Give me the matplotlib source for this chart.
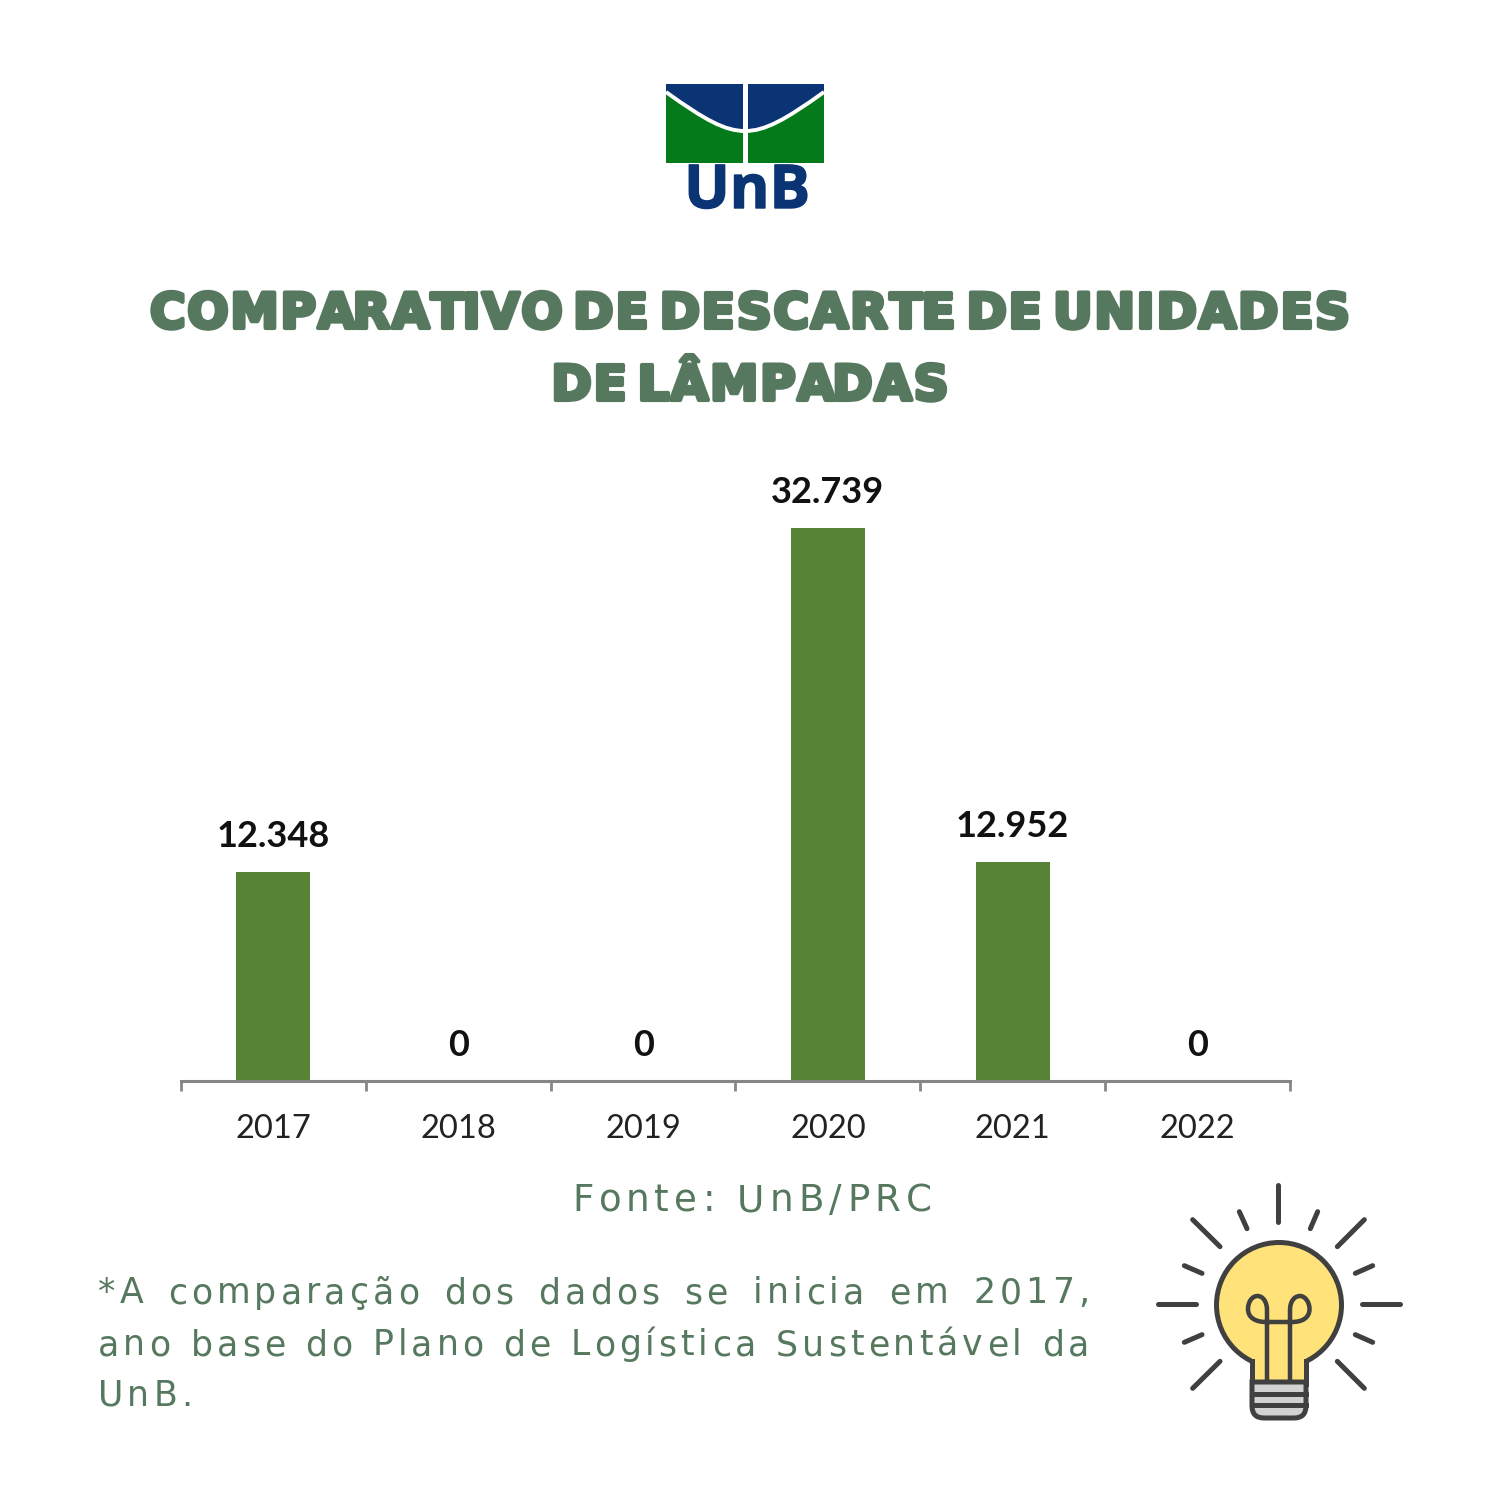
#!/usr/bin/env python3
"""Comparison of discarded lamp units per year, UnB infographic."""

import matplotlib
matplotlib.use("Agg")
import matplotlib.pyplot as plt
import matplotlib.patheffects as pe
from matplotlib.patches import Circle, PathPatch, Rectangle
from matplotlib.path import Path
from matplotlib.text import Text
from matplotlib.transforms import IdentityTransform

years = ["2017", "2018", "2019", "2020", "2021", "2022"]
units = [12348, 0, 0, 32739, 12952, 0]
value_labels = ["12.348", "0", "0", "32.739", "12.952", "0"]

title_lines = ["COMPARATIVO DE DESCARTE DE UNIDADES", "DE LÂMPADAS"]
source_text = "Fonte: UnB/PRC"
note_lines = [
    "*A comparação dos dados se inicia em 2017,",
    "ano base do Plano de Logística Sustentável da",
    "UnB.",
]

TEXT_GREEN = "#56785E"
BAR_GREEN = "#568335"
AXIS_GREY = "#868686"
LOGO_BLUE = "#0B3474"
LOGO_GREEN = "#057A1B"
BULB_DARK = "#404040"
BULB_YELLOW = "#FFE27A"
BASE_GREY = "#D2D2D2"
SIZE = 1500


class TrackedText(Text):
    # matplotlib has no letter spacing, so the glyphs are drawn one by one while
    # the artist keeps the whole string. tracking and fit_width are in pixels.
    def __init__(self, *args, tracking=0.0, word_extra=0.0, fit_width=None, **kwargs):
        super().__init__(*args, **kwargs)
        self.tracking = tracking
        self.word_extra = word_extra
        self.fit_width = fit_width

    def _advance(self, renderer, s):
        prop = self.get_fontproperties()
        w_bar = renderer.get_text_width_height_descent("|", prop, False)[0]
        return renderer.get_text_width_height_descent(s + "|", prop, False)[0] - w_bar

    def draw(self, renderer):
        s = self.get_text()
        nspaces = s.count(" ")
        word_extra = self.word_extra
        natural = self._advance(renderer, s) + self.tracking * (len(s) - 1)
        if self.fit_width is not None and nspaces:
            word_extra = (self.fit_width - natural) / nspaces
        total = natural + word_extra * nspaces

        x0, y0 = self.get_transform().transform(self.get_position())
        if self.get_ha() == "center":
            x0 -= total / 2
        for i, ch in enumerate(s):
            if ch == " ":
                continue
            prefix = s[:i]
            xi = x0 + self._advance(renderer, prefix) + i * self.tracking + prefix.count(" ") * word_extra
            glyph = Text(xi, y0, ch, color=self.get_color(), fontproperties=self.get_fontproperties(),
                         ha="left", va="baseline", transform=IdentityTransform(),
                         path_effects=self.get_path_effects())
            glyph.set_figure(self.get_figure())
            glyph.draw(renderer)


def draw_logo(ov):
    ov.add_patch(Rectangle((666, 84), 158, 79, color=LOGO_GREEN, lw=0))
    # arc is straight-ish near the edges and flat in the middle
    arc_v = [(666, 92), (705, 120), (725, 131), (745, 131), (765, 131), (785, 120), (824, 92)]
    arc_c = [Path.MOVETO] + [Path.CURVE4] * 6
    fill_v = [(666, 84), (824, 84)] + arc_v[::-1] + [(666, 84)]
    fill_c = [Path.MOVETO, Path.LINETO, Path.LINETO] + [Path.CURVE4] * 6 + [Path.CLOSEPOLY]
    ov.add_patch(PathPatch(Path(fill_v, fill_c), fc=LOGO_BLUE, ec="none"))
    ov.add_patch(PathPatch(Path(arc_v, arc_c), fc="none", ec="white", lw=2.8))
    ov.add_patch(Rectangle((743, 84), 4.5, 79, color="white", lw=0))
    ov.text(747, 208, "UnB", color=LOGO_BLUE, fontsize=43.5, fontweight="bold",
            family="Open Sans", ha="center", va="baseline",
            path_effects=[pe.withStroke(linewidth=1, foreground=LOGO_BLUE)])


def draw_bulb(ov):
    lw = 3.6
    rays = [
        ((415, 45), (415, 157)), ((298, 125), (321, 176)), ((533, 125), (511, 176)),
        ((158, 149), (240, 230)), ((673, 149), (592, 230)), ((133, 287), (186, 310)),
        ((698, 287), (646, 310)), ((53, 402), (167, 402)), ((665, 402), (779, 402)),
        ((133, 517), (186, 494)), ((698, 517), (646, 494)), ((158, 655), (240, 574)),
        ((673, 655), (592, 574)),
    ]
    for a, b in rays:
        ov.plot([1140 + a[0] / 3, 1140 + b[0] / 3], [1170 + a[1] / 3, 1170 + b[1] / 3],
                color=BULB_DARK, lw=lw, solid_capstyle="round")

    ov.add_patch(Circle((1279, 1305), 62.5, fc=BULB_YELLOW, ec=BULB_DARK, lw=lw, zorder=2))
    ov.add_patch(Rectangle((1252, 1350), 54, 36, fc=BULB_YELLOW, ec="none", zorder=3))
    ov.plot([1252, 1252], [1361, 1384], color=BULB_DARK, lw=lw, zorder=4)
    ov.plot([1306, 1306], [1361, 1384], color=BULB_DARK, lw=lw, zorder=4)

    verts = [(1252, 1382), (1306, 1382), (1306, 1406), (1306, 1418), (1294, 1418),
             (1264, 1418), (1252, 1418), (1252, 1406), (1252, 1382)]
    codes = [Path.MOVETO, Path.LINETO, Path.LINETO, Path.CURVE3, Path.CURVE3,
             Path.LINETO, Path.CURVE3, Path.CURVE3, Path.CLOSEPOLY]
    ov.add_patch(PathPatch(Path(verts, codes), fc=BASE_GREY, ec=BULB_DARK, lw=lw, zorder=4))
    for y in [1393.5, 1405]:
        ov.plot([1252, 1306], [y, y], color=BULB_DARK, lw=lw, zorder=5)

    # filament, left and right loop joined at the bottom
    fil = Path(
        [(1267, 1382), (1267, 1310),
         (1267, 1302), (1263, 1296), (1257.5, 1296),
         (1252, 1296), (1248, 1302), (1248, 1309),
         (1248, 1318), (1256, 1322), (1266, 1322),
         (1292, 1322),
         (1302, 1322), (1309.5, 1318), (1309.5, 1309),
         (1309.5, 1302), (1305, 1296), (1300, 1296),
         (1294, 1296), (1290, 1302), (1290, 1310),
         (1290, 1382)],
        [Path.MOVETO, Path.LINETO] + [Path.CURVE4] * 9 + [Path.LINETO] + [Path.CURVE4] * 9 + [Path.LINETO],
    )
    ov.add_patch(PathPatch(fil, fc="none", ec=BULB_DARK, lw=lw * 0.9, zorder=3))


fig = plt.figure(figsize=(15, 15), dpi=100, facecolor="white")

# chart area: x 181-1290 px, baseline at 1081 px, tallest bar top at 528 px
top_value = 36000
px_per_unit = (1081 - 528) / max(units)
ax_h = top_value * px_per_unit
ax = fig.add_axes([181 / SIZE, 1 - 1081 / SIZE, (1290 - 181) / SIZE, ax_h / SIZE])
x = list(range(len(years)))
ax.bar(x, units, width=0.4, color=BAR_GREEN)
ax.set_xlim(-0.5, len(years) - 0.5)
ax.set_ylim(0, top_value)
ax.set_yticks([])
for side in ["top", "left", "right"]:
    ax.spines[side].set_visible(False)
ax.spines["bottom"].set_color(AXIS_GREY)
ax.spines["bottom"].set_linewidth(2.2)
ax.set_xticks([i - 0.5 for i in range(len(years) + 1)], labels=[])
ax.tick_params(axis="x", which="major", length=7, width=2, color=AXIS_GREY)
ax.set_xticks(x, labels=years, minor=True)
ax.tick_params(axis="x", which="minor", length=0, pad=23.5, labelsize=23.5, labelcolor="#222222")
for lab in ax.get_xticklabels(minor=True):
    lab.set_family("Lato")

for xi, val, lab in zip(x, units, value_labels):
    ax.annotate(lab, (xi, val), xytext=(0, 18), textcoords="offset points", ha="center",
                va="baseline", fontsize=26, fontweight="bold", family="Lato", color="#111111")

# full-figure overlay in pixel coordinates for the text and the two icons
ov = fig.add_axes([0, 0, 1, 1], facecolor="none")
ov.set_xlim(0, SIZE)
ov.set_ylim(SIZE, 0)
ov.axis("off")

draw_logo(ov)
draw_bulb(ov)

for line, y in zip(title_lines, [328, 400]):
    ov.add_artist(TrackedText(750, y, line, tracking=1.7, word_extra=-9, color=TEXT_GREEN, fontsize=35,
                              fontweight="bold", ha="center", va="baseline", family="DejaVu Sans",
                              path_effects=[pe.withStroke(linewidth=3, foreground=TEXT_GREEN)]))

ov.add_artist(TrackedText(751, 1211, source_text, tracking=5.2, color=TEXT_GREEN, fontsize=26.8,
                          ha="center", va="baseline", family="DejaVu Sans"))
for line, y, fit in zip(note_lines, [1303, 1355, 1406], [991, 991, None]):
    ov.add_artist(TrackedText(98, y, line, tracking=4.0, fit_width=fit, color=TEXT_GREEN, fontsize=25,
                              ha="left", va="baseline", family="DejaVu Sans"))

fig.savefig("out.png", dpi=100)
